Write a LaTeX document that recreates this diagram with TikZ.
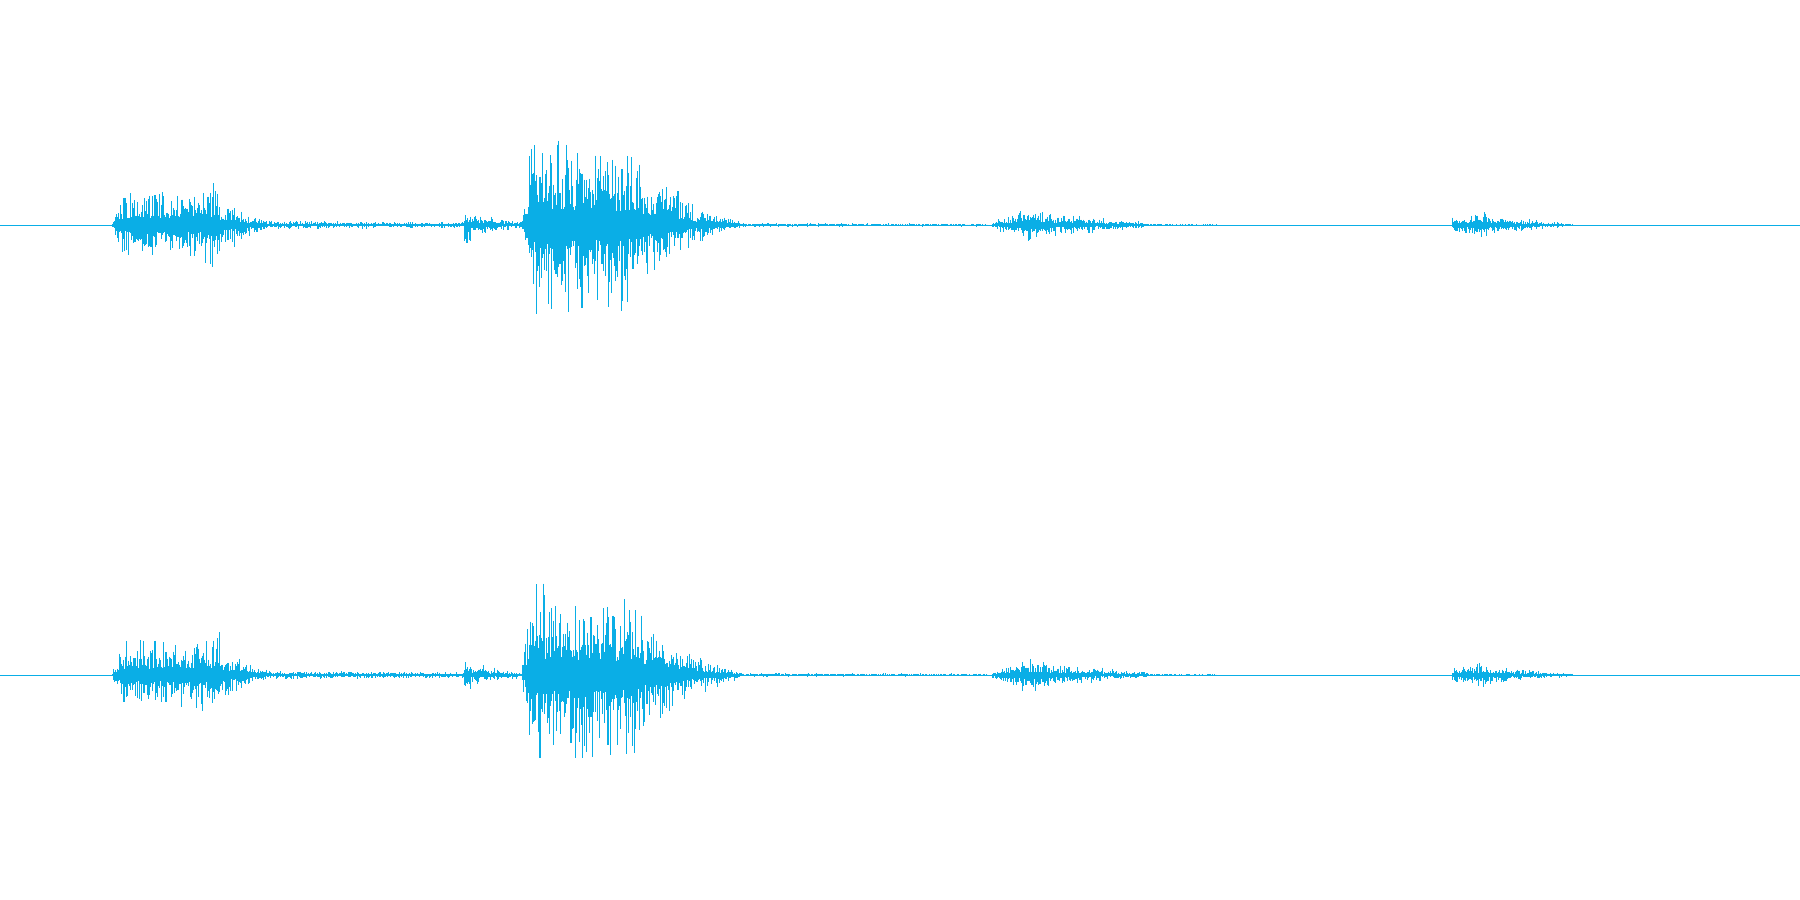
\documentclass[tikz,border=0pt]{standalone}
\definecolor{wave}{HTML}{0AAEE6}
\newcommand\wseg[5]{%
  \pgfmathsetmacro\nn{int((#2-#1)/0.6)}%
  \foreach \i in {0,...,\nn}{%
    \pgfmathsetmacro\xx{#1+0.6*\i}%
    \pgfmathsetmacro\aa{#3+(#4-#3)*\i/(\nn+0.001)}%
    \pgfmathsetmacro\uu{\aa*(0.22+rnd*rnd*1.15)}%
    \pgfmathsetmacro\dd{\aa*(0.22+rnd*rnd*1.15)}%
    \draw (\xx,#5-\uu) -- (\xx,#5+\dd);
  }}
\newcommand\wchan[1]{%
  \wseg{98}{105}{2}{22}{#1}
  \wseg{105}{185}{22}{26}{#1}
  \wseg{185}{192}{36}{32}{#1}
  \wseg{192}{215}{20}{10}{#1}
  \wseg{215}{235}{8}{3}{#1}
  \wseg{235}{405}{3}{2}{#1}
  \wseg{405}{410}{15}{12}{#1}
  \wseg{410}{455}{8}{2}{#1}
  \wseg{455}{462}{8}{55}{#1}
  \wseg{462}{560}{64}{54}{#1}
  \wseg{560}{600}{38}{20}{#1}
  \wseg{600}{645}{15}{3}{#1}
  \wseg{645}{860}{1.5}{1}{#1}
  \wseg{865}{900}{3}{14}{#1}
  \wseg{900}{930}{12}{6}{#1}
  \wseg{930}{1000}{7}{2}{#1}
  \wseg{1000}{1060}{1}{0.5}{#1}
  \wseg{1265}{1295}{6}{10}{#1}
  \wseg{1295}{1370}{7}{1}{#1}
}
\begin{document}
\begin{tikzpicture}[x=0.011480cm,y=-0.011480cm,line width=0.3pt]
\useasboundingbox (0,0) rectangle (1568,784);
\fill[white] (0,0) rectangle (1568,784);
\begin{scope}[draw=wave]
\draw[line width=0.25pt] (0,196) -- (1568,196);
\draw[line width=0.25pt] (0,588) -- (1568,588);
\pgfmathsetseed{17}
\wchan{196}
\pgfmathsetseed{42}
\wchan{588}
\end{scope}
\end{tikzpicture}
\end{document}
